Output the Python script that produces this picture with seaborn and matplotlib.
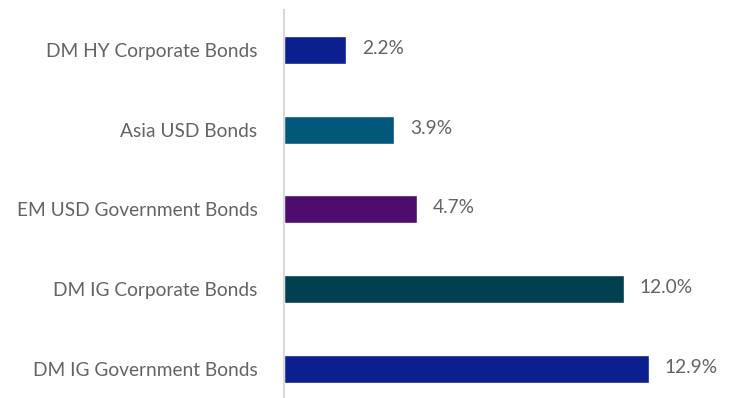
import matplotlib
matplotlib.use("Agg")
import matplotlib.pyplot as plt
import seaborn as sns
import pandas as pd

categories = ["DM HY Corporate Bonds", "Asia USD Bonds", "EM USD Government Bonds",
              "DM IG Corporate Bonds", "DM IG Government Bonds"]
values = [2.2, 3.9, 4.7, 12.0, 12.9]
colors = ["#0b1f8f", "#02587a", "#4f0c6f", "#004050", "#0b1f8f"]

df = pd.DataFrame({"category": categories, "value": values})

sns.set_theme(style="white")
plt.rcParams["font.family"] = ["Lato", "DejaVu Sans"]

fig = plt.figure(figsize=(7.37, 3.98), dpi=100)
ax = fig.add_axes([284 / 737, 0.0, 424.5 / 737, 388 / 398])

sns.barplot(data=df, x="value", y="category", hue="category", palette=colors,
            legend=False, orient="h", width=0.35, ax=ax, saturation=1)

ax.set_xlim(0, 15)
ax.set_ylim(4.364, -0.5)
ax.set_xlabel("")
ax.set_ylabel("")
ax.set_xticks([])
for side in ["top", "right", "bottom"]:
    ax.spines[side].set_visible(False)
ax.spines["left"].set_color("#d9d9d9")
ax.spines["left"].set_linewidth(1.5)
ax.tick_params(axis="y", length=0, pad=19, labelsize=13.8, labelcolor="#646464")

for i, v in enumerate(values):
    ax.text(v + 0.56, i - 0.02, f"{v:.1f}%", va="center", ha="left", fontsize=13.8,
            color="#646464", clip_on=False)

fig.savefig("out.png", dpi=100)
